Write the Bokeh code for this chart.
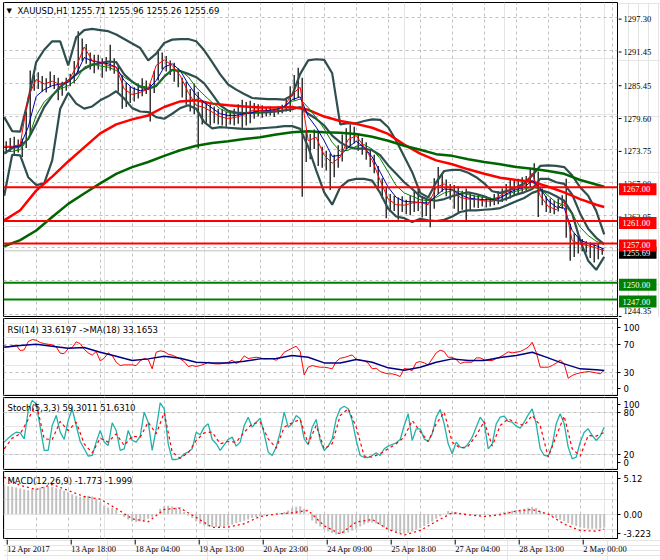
from bokeh.plotting import figure
from bokeh.models import Range1d, LinearAxis, FixedTicker, Grid, Span, Label
from bokeh.layouts import column, row
from bokeh.embed import file_html
from bokeh.resources import INLINE

# ---------------- data ----------------
# bar numbers: one hourly bar per unit
idx2 = list(range(0, 301, 2))          # 151 samples
idx4 = list(range(0, 301, 4))          # 76 samples
idx8 = list(range(0, 297, 8)) + [300]  # 39 samples
bar_idx = list(range(1, 300, 2))       # 150 bars

time_ticks = [0, 32, 64, 96, 128, 160, 192, 224, 256, 288]
time_labels = ["12 Apr 2017", "13 Apr 18:00", "18 Apr 04:00", "19 Apr 13:00", "20 Apr 23:00",
               "24 Apr 09:00", "25 Apr 18:00", "27 Apr 04:00", "28 Apr 13:00", "2 May 00:00"]
vgrid_ticks = list(range(16, 305, 16))

price_ticks = [1297.30, 1291.45, 1285.45, 1279.60, 1273.75, 1267.90, 1262.05, 1256.20, 1250.35, 1244.35]
levels_red = [1267.00, 1261.00, 1257.00]
levels_green = [1250.00, 1247.00]
last_price = 1255.69

# scale labels of the indicator windows: shown text and where the terminal prints it
rsi_scale_text = ["100", "70", "30", "0"]
rsi_scale_at = [94.4, 70, 30, 7.3]
stoch_scale_text = ["100", "80", "20", "0"]
stoch_scale_at = [91.5, 80, 20, 8.1]
macd_scale_text = ["5.12", "0.00", "-3.223"]
macd_scale_at = [4.70, 0.0, -2.56]

bar_high = [1275.2, 1275.8, 1276.0, 1275.5, 1275.7, 1280.5, 1287.8, 1287.0, 1287.5, 1286.8,
            1286.4, 1287.6, 1287.0, 1286.5, 1285.8, 1286.5, 1287.2, 1289.5, 1294.8, 1293.5,
            1292.5, 1291.0, 1290.6, 1290.6, 1290.0, 1290.2, 1292.4, 1290.0, 1288.6, 1287.0,
            1285.6, 1285.0, 1284.8, 1285.5, 1286.4, 1286.0, 1285.4, 1287.7, 1291.5, 1291.0,
            1290.4, 1289.6, 1289.2, 1288.2, 1286.5, 1285.8, 1284.5, 1285.5, 1284.0, 1282.5,
            1282.0, 1281.8, 1281.4, 1281.0, 1280.9, 1280.4, 1280.6, 1281.0, 1281.8, 1282.6,
            1282.2, 1282.4, 1282.0, 1281.8, 1281.6, 1281.3, 1281.4, 1281.0, 1281.4, 1281.7,
            1282.8, 1285.0, 1287.0, 1288.3, 1286.5, 1277.0, 1276.5, 1277.3, 1276.8, 1274.2,
            1273.5, 1273.0, 1272.8, 1274.5, 1276.4, 1277.5, 1278.2, 1277.8, 1276.6, 1275.8,
            1275.0, 1273.6, 1272.8, 1270.8, 1268.6, 1267.0, 1265.8, 1265.5, 1265.2, 1265.4,
            1264.8, 1265.6, 1266.2, 1266.8, 1265.4, 1264.9, 1265.2, 1268.6, 1270.6, 1269.5,
            1268.4, 1267.6, 1267.4, 1267.2, 1266.4, 1266.8, 1266.0, 1265.6, 1265.7, 1265.3,
            1265.4, 1265.2, 1265.8, 1266.3, 1266.8, 1267.6, 1268.4, 1268.2, 1268.5, 1268.8,
            1269.0, 1270.2, 1271.3, 1269.8, 1266.8, 1265.4, 1265.0, 1264.6, 1265.0, 1265.6,
            1268.5, 1260.5, 1258.8, 1258.4, 1257.8, 1257.4, 1257.2, 1256.8, 1257.0, 1256.2]
bar_low = [1273.0, 1273.5, 1272.6, 1273.2, 1272.4, 1274.0, 1276.5, 1284.2, 1284.5, 1284.0,
           1283.9, 1284.8, 1284.5, 1282.5, 1283.3, 1284.2, 1285.0, 1285.5, 1287.5, 1289.5,
           1289.0, 1288.0, 1287.3, 1288.0, 1286.5, 1287.6, 1287.8, 1287.2, 1284.0, 1281.0,
           1281.3, 1282.0, 1282.3, 1282.8, 1283.2, 1283.6, 1278.7, 1283.8, 1286.0, 1288.0,
           1287.6, 1287.0, 1285.8, 1284.8, 1283.0, 1281.7, 1280.5, 1280.0, 1273.9, 1278.2,
           1278.5, 1278.0, 1278.4, 1278.2, 1278.0, 1277.8, 1278.2, 1278.0, 1278.3, 1277.6,
           1278.0, 1278.4, 1279.2, 1279.6, 1279.4, 1279.6, 1279.8, 1279.5, 1280.0, 1280.2,
           1280.5, 1280.4, 1282.5, 1283.0, 1265.3, 1271.5, 1272.0, 1273.8, 1270.8, 1270.5,
           1270.0, 1266.5, 1268.8, 1270.5, 1271.6, 1273.8, 1274.3, 1274.8, 1273.5, 1272.8,
           1271.9, 1270.6, 1269.5, 1266.8, 1265.0, 1261.5, 1262.6, 1262.8, 1261.2, 1262.6,
           1262.2, 1262.0, 1262.6, 1262.8, 1261.6, 1261.9, 1259.9, 1263.2, 1265.8, 1266.2,
           1265.4, 1264.8, 1263.2, 1262.6, 1263.0, 1261.1, 1262.8, 1263.4, 1263.3, 1263.6,
           1263.4, 1263.6, 1263.8, 1264.0, 1264.4, 1264.6, 1265.0, 1265.6, 1265.8, 1266.2,
           1266.4, 1267.0, 1267.6, 1261.7, 1263.8, 1262.6, 1262.4, 1262.2, 1262.7, 1263.2,
           1258.0, 1253.9, 1254.6, 1255.2, 1255.6, 1255.4, 1254.4, 1253.6, 1254.2, 1255.0]

bb_upper = [1279.5, 1277.0, 1276.9, 1282.5, 1289.3, 1291.5, 1293.0, 1293.0, 1288.7, 1293.7,
            1295.0, 1295.2, 1295.0, 1294.8, 1294.2, 1293.4, 1292.6, 1291.8, 1289.6, 1290.8,
            1292.7, 1293.3, 1293.4, 1293.4, 1293.0, 1291.4, 1289.3, 1287.1, 1285.3, 1284.4,
            1283.6, 1282.9, 1282.8, 1282.7, 1282.7, 1282.6, 1283.4, 1287.2, 1289.6, 1289.8,
            1289.7, 1287.3, 1278.2, 1278.4, 1278.4, 1278.8, 1279.1, 1279.0, 1277.7, 1275.3,
            1272.5, 1269.7, 1266.0, 1265.2, 1267.9, 1269.9, 1270.1, 1270.1, 1269.6, 1268.8,
            1267.7, 1266.3, 1266.0, 1266.4, 1267.0, 1267.7, 1269.1, 1270.8, 1270.9, 1270.8,
            1270.6, 1269.1, 1267.0, 1265.5, 1262.8, 1258.6]
bb_mid = [1273.0, 1274.0, 1274.3, 1275.6, 1278.3, 1281.3, 1283.3, 1284.9, 1286.0, 1287.1,
          1288.1, 1288.8, 1289.1, 1289.4, 1289.3, 1287.1, 1285.8, 1284.9, 1284.5, 1285.1,
          1286.7, 1287.9, 1287.7, 1287.2, 1286.6, 1285.5, 1283.6, 1281.6, 1280.6, 1280.3,
          1280.2, 1280.3, 1280.3, 1280.4, 1280.5, 1280.7, 1280.9, 1281.3, 1280.1, 1279.2,
          1278.0, 1276.2, 1275.0, 1274.2, 1273.9, 1273.9, 1273.6, 1272.7, 1270.9, 1269.4,
          1267.9, 1266.7, 1265.4, 1264.8, 1264.6, 1264.9, 1265.4, 1265.8, 1266.1, 1265.8,
          1265.4, 1264.8, 1264.6, 1265.1, 1265.7, 1266.1, 1266.7, 1268.5, 1268.5, 1267.9,
          1267.6, 1265.7, 1262.3, 1259.6, 1258.0, 1256.9]
bb_lower = [1265.5, 1272.8, 1272.7, 1268.8, 1267.4, 1267.7, 1271.8, 1281.0, 1283.8, 1281.9,
            1281.0, 1281.4, 1282.5, 1283.2, 1284.1, 1282.8, 1281.1, 1280.5, 1280.4, 1279.5,
            1279.2, 1280.1, 1281.1, 1281.6, 1281.0, 1278.6, 1277.5, 1277.7, 1277.6, 1277.5,
            1277.4, 1277.4, 1277.5, 1277.6, 1277.7, 1277.9, 1277.9, 1277.4, 1274.2, 1270.0,
            1266.1, 1263.9, 1267.0, 1268.2, 1268.5, 1268.5, 1268.2, 1266.0, 1263.2, 1261.8,
            1261.5, 1260.8, 1261.4, 1261.1, 1261.0, 1261.2, 1261.8, 1262.6, 1262.9, 1262.9,
            1263.0, 1263.1, 1263.3, 1263.9, 1264.5, 1265.1, 1266.0, 1266.5, 1266.1, 1265.4,
            1264.6, 1262.3, 1257.5, 1253.9, 1252.3, 1254.6]
ma_fast = [1274.3, 1274.3, 1274.6, 1283.1, 1286.2, 1285.4, 1285.9, 1285.3, 1285.9, 1288.4,
           1292.0, 1289.6, 1289.3, 1288.7, 1288.4, 1284.5, 1283.5, 1283.9, 1284.5, 1288.7,
           1289.7, 1288.7, 1286.9, 1283.9, 1281.6, 1281.2, 1280.4, 1279.6, 1279.2, 1279.5,
           1279.9, 1280.7, 1280.7, 1280.5, 1280.6, 1281.4, 1283.6, 1284.8, 1275.3, 1275.9,
           1272.7, 1271.3, 1272.4, 1275.5, 1276.2, 1274.2, 1271.8, 1268.2, 1264.9, 1263.9,
           1263.8, 1264.2, 1264.3, 1263.9, 1267.0, 1267.6, 1266.6, 1265.2, 1264.9, 1264.8,
           1264.6, 1264.5, 1265.5, 1266.3, 1267.0, 1267.3, 1269.5, 1265.5, 1263.6, 1263.0,
           1264.4, 1257.5, 1256.9, 1256.6, 1256.2, 1255.7]
ma_medium = [1274.1, 1274.2, 1274.4, 1277.7, 1283.2, 1284.4, 1285.1, 1285.4, 1285.7, 1287.1,
             1290.1, 1289.5, 1289.2, 1289.0, 1288.4, 1286.0, 1284.7, 1284.2, 1284.5, 1286.0,
             1288.4, 1289.0, 1287.8, 1285.4, 1283.4, 1282.1, 1281.1, 1280.1, 1279.8, 1279.8,
             1280.1, 1280.3, 1280.7, 1280.7, 1280.8, 1281.4, 1282.6, 1283.1, 1279.6, 1277.7,
             1275.3, 1272.5, 1272.7, 1274.1, 1275.2, 1274.1, 1272.4, 1269.7, 1267.0, 1265.2,
             1264.5, 1264.4, 1264.3, 1264.2, 1265.5, 1266.7, 1266.6, 1265.7, 1265.1, 1264.9,
             1264.8, 1264.8, 1265.1, 1266.0, 1266.6, 1267.0, 1268.2, 1266.9, 1264.6, 1263.5,
             1263.3, 1259.3, 1257.6, 1257.0, 1256.6, 1256.0]
ma_slow = [1273.3, 1273.4, 1273.7, 1275.6, 1279.8, 1282.2, 1283.5, 1284.5, 1285.1, 1286.1,
           1288.4, 1289.0, 1288.6, 1288.4, 1287.8, 1286.6, 1285.7, 1285.1, 1284.8, 1284.9,
           1286.9, 1287.8, 1287.8, 1286.7, 1284.8, 1283.4, 1282.1, 1281.0, 1280.3, 1280.1,
           1280.1, 1280.2, 1280.4, 1280.7, 1280.9, 1281.4, 1282.3, 1282.7, 1281.2, 1279.4,
           1277.4, 1275.0, 1273.4, 1273.6, 1274.3, 1274.6, 1273.8, 1272.1, 1269.7, 1267.3,
           1266.0, 1265.4, 1264.8, 1264.6, 1265.2, 1266.0, 1266.4, 1266.2, 1265.7, 1265.4,
           1265.2, 1265.0, 1265.2, 1265.8, 1266.3, 1266.7, 1267.0, 1266.7, 1265.5, 1264.3,
           1263.8, 1262.3, 1259.9, 1258.4, 1257.4, 1256.8]
ma_long_red = [1261.1, 1262.9, 1266.4, 1268.9, 1271.6, 1274.1, 1276.6, 1278.2, 1279.1, 1279.8,
               1281.3, 1282.3, 1282.5, 1281.9, 1281.6, 1281.4, 1281.2, 1281.2, 1281.3, 1280.8,
               1279.6, 1278.8, 1278.3, 1277.6, 1276.5, 1274.6, 1273.0, 1271.8, 1271.1, 1270.2,
               1269.4, 1268.7, 1268.3, 1268.0, 1267.1, 1266.1, 1264.9, 1263.9, 1263.5]
ma_long_green = [1256.5, 1257.6, 1259.3, 1261.7, 1264.05, 1265.9, 1267.7, 1269.4, 1270.6, 1271.5,
                 1272.6, 1273.6, 1274.4, 1274.9, 1275.2, 1275.6, 1275.9, 1276.4, 1276.8, 1277.0,
                 1276.8, 1276.7, 1276.5, 1276.0, 1275.3, 1274.4, 1273.7, 1272.9, 1272.6, 1272.0,
                 1271.5, 1271.1, 1270.6, 1270.3, 1269.9, 1269.4, 1268.3, 1267.5, 1267.1]

rsi = [68.5, 66.6, 68.5, 69.0, 61.5, 62.4, 74.2, 77.0, 76.1, 72.8,
       71.3, 70.4, 69.5, 66.6, 57.7, 57.2, 64.3, 65.7, 73.7, 71.3,
       63.3, 58.2, 54.9, 60.1, 46.9, 50.6, 58.2, 54.4, 45.0, 40.3,
       41.2, 41.2, 41.2, 40.3, 46.9, 50.2, 48.8, 35.6, 59.1, 61.0,
       60.1, 56.3, 54.9, 52.5, 49.7, 45.9, 38.9, 40.3, 38.9, 40.3,
       42.2, 45.0, 43.1, 42.6, 42.6, 43.6, 45.0, 47.8, 43.1, 46.4,
       53.9, 50.2, 51.1, 52.0, 51.1, 49.7, 49.7, 49.7, 47.8, 51.6,
       59.1, 61.9, 64.8, 67.6, 60.1, 27.1, 37.9, 40.3, 38.9, 37.9,
       37.9, 37.0, 35.6, 45.9, 50.6, 51.6, 53.5, 55.3, 49.2, 47.8,
       47.3, 43.6, 35.6, 36.5, 31.8, 29.9, 28.5, 28.5, 27.1, 24.7,
       36.1, 35.1, 33.2, 44.5, 45.9, 44.0, 41.2, 49.7, 58.2, 61.9,
       60.1, 52.0, 52.0, 48.8, 43.1, 45.0, 45.0, 45.0, 51.1, 51.1,
       48.3, 47.3, 47.3, 50.2, 52.5, 55.8, 59.6, 58.2, 59.1, 60.1,
       62.9, 66.2, 73.2, 59.1, 37.9, 37.9, 37.9, 40.3, 43.6, 48.3,
       42.6, 22.4, 26.2, 28.5, 29.9, 30.9, 31.8, 30.9, 29.9, 28.5,
       33.6]
rsi_ma = [66.2, 68.5, 70.4, 67.6, 64.8, 65.7, 59.1, 53.5, 47.3, 49.7,
          53.5, 50.6, 45.0, 44.0, 44.0, 46.4, 49.7, 50.2, 54.4, 52.0,
          44.0, 44.0, 48.8, 45.0, 37.0, 33.7, 37.9, 45.0, 49.7, 47.3,
          47.3, 51.6, 54.4, 59.1, 51.1, 42.6, 35.6, 34.2, 33.2]

stoch_main = [37.8, 43.5, 48.3, 52.1, 51.2, 42.5, 83.3, 97.7, 92.9, 59.3,
              25.8, 25.8, 61.7, 76.1, 52.1, 41.6, 68.9, 85.7, 61.7, 38.7,
              28.2, 17.6, 18.6, 37.8, 54.5, 37.8, 33.0, 65.6, 54.5, 25.8,
              28.2, 54.5, 40.2, 37.8, 46.4, 80.9, 66.5, 25.8, 56.9, 94.3,
              85.7, 35.4, 12.8, 12.8, 14.7, 21.0, 23.4, 28.2, 52.1, 48.3,
              59.3, 64.1, 41.6, 35.4, 25.8, 33.9, 41.6, 45.0, 32.0, 37.8,
              61.7, 73.7, 59.3, 66.5, 72.3, 49.7, 23.4, 18.6, 30.6, 52.1,
              80.9, 59.3, 64.1, 76.1, 71.3, 42.5, 34.0, 59.3, 70.4, 40.2,
              25.8, 32.0, 42.5, 71.3, 85.7, 89.5, 85.7, 68.9, 40.2, 18.6,
              15.7, 15.7, 18.6, 22.4, 18.6, 28.2, 32.0, 34.4, 36.8, 41.6,
              61.7, 78.5, 40.2, 56.9, 56.9, 42.5, 38.7, 49.7, 73.7, 84.8,
              64.1, 35.4, 21.0, 37.8, 30.6, 29.1, 35.4, 44.9, 59.3, 73.7,
              65.6, 28.2, 35.4, 64.1, 73.7, 75.2, 67.5, 66.5, 60.8, 57.9,
              66.5, 77.1, 85.7, 64.1, 28.2, 18.6, 17.6, 32.9, 64.1, 78.5,
              64.1, 30.6, 13.8, 16.2, 37.8, 52.1, 56.9, 47.3, 40.2, 46.4,
              59.3]
stoch_signal = [28.2, 43.5, 49.7, 70.4, 94.3, 42.5, 41.6, 67.5, 54.5, 66.5,
                35.4, 22.4, 43.5, 37.8, 49.7, 33.0, 46.4, 44.9, 66.5, 49.7,
                80.0, 23.4, 14.7, 22.4, 40.2, 51.2, 52.1, 35.4, 38.7, 37.8,
                52.1, 64.1, 66.5, 42.5, 29.1, 59.3, 65.6, 70.4, 35.4, 61.7,
                28.2, 35.4, 76.1, 85.7, 59.3, 17.6, 16.2, 21.4, 28.2, 35.4,
                44.9, 68.9, 53.1, 38.7, 64.1, 80.9, 37.8, 29.1, 32.0, 47.3,
                67.5, 32.0, 61.7, 71.3, 65.6, 61.7, 76.1, 61.7, 16.2, 46.4,
                75.2, 28.2, 17.6, 47.3, 46.4, 51.6]

macd_hist = [3.80, 3.71, 3.63, 3.54, 3.40, 3.27, 3.18, 3.32, 3.40, 3.54,
             3.63, 3.71, 3.63, 3.45, 3.32, 3.10, 2.92, 2.65, 2.43, 2.30,
             2.39, 2.43, 2.34, 2.03, 1.59, 1.15, 0.88, 0.80, 0.62, -0.09,
             -0.40, -0.71, -0.97, -1.06, -0.97, -0.80, -0.62, -0.40, 0.04, 0.71,
             1.06, 1.11, 1.02, 0.88, 0.71, 0.27, -0.18, -0.53, -0.97, -1.28,
             -1.50, -1.63, -1.72, -1.72, -1.68, -1.59, -1.50, -1.37, -1.19, -1.06,
             -0.88, -0.71, -0.53, -0.40, -0.27, -0.18, -0.09, -0.04, 0.00, 0.09,
             0.27, 0.49, 0.80, 0.97, 1.06, 0.71, 0.04, -0.84, -1.28, -1.63,
             -1.99, -2.30, -2.52, -2.70, -2.65, -2.56, -2.43, -2.21, -1.95, -1.63,
             -1.37, -1.15, -1.10, -1.24, -1.46, -1.77, -2.08, -2.26, -2.39, -2.52,
             -2.61, -2.52, -2.30, -2.08, -1.86, -1.59, -1.33, -0.97, -0.62, -0.31,
             0.04, 0.40, 0.35, 0.27, 0.18, 0.09, 0.00, -0.09, -0.18, -0.18,
             -0.13, -0.09, 0.00, 0.04, 0.18, 0.27, 0.35, 0.44, 0.53, 0.62,
             0.71, 0.84, 0.93, 0.80, 0.44, 0.13, -0.09, -0.35, -0.53, -0.75,
             -0.93, -1.19, -1.41, -1.59, -1.77, -1.86, -1.95, -1.95, -1.95, -1.90,
             -1.77]
macd_signal = [4.91, 3.80, 3.27, 3.94, 3.14, 2.34, 1.99, 0.75, -0.62, -1.02,
               0.62, 0.80, -0.44, -1.77, -1.72, -1.28, -0.31, 0.00, 0.18, 0.49,
               -1.55, -2.65, -1.06, -0.71, -2.03, -2.79, -2.17, -0.97, 0.18, -0.09,
               -0.31, -0.09, 0.40, 0.62, 0.00, -1.33, -2.17, -2.26, -2.00]

for name, arr, ref in [("bar_high", bar_high, bar_idx), ("bar_low", bar_low, bar_idx),
                       ("bb_upper", bb_upper, idx4), ("bb_mid", bb_mid, idx4), ("bb_lower", bb_lower, idx4),
                       ("ma_fast", ma_fast, idx4), ("ma_medium", ma_medium, idx4), ("ma_slow", ma_slow, idx4),
                       ("ma_long_red", ma_long_red, idx8), ("ma_long_green", ma_long_green, idx8),
                       ("rsi", rsi, idx2), ("rsi_ma", rsi_ma, idx8), ("stoch_main", stoch_main, idx2),
                       ("stoch_signal", stoch_signal, idx4), ("macd_hist", macd_hist, idx2),
                       ("macd_signal", macd_signal, idx8)]:
    if len(arr) != len(ref):
        raise ValueError(f"{name}: {len(arr)} != {len(ref)}")

# ---------------- styling ----------------
FONT = "DejaVu Sans"
FS = "8.5px"
GRID = "#c0c0c0"
FRAME_W = 614

x_range = Range1d(-0.35, 306.65)


def style_axis(ax):
    ax.axis_line_color = "black"
    ax.major_tick_out = 3
    ax.major_tick_in = 0
    ax.minor_tick_out = 0
    ax.minor_tick_in = 0
    ax.major_label_standoff = 3
    ax.major_label_text_font = FONT
    ax.major_label_text_font_size = FS
    ax.major_label_text_color = "black"


def make_panel(fh, y0, y1, top, scale_at, scale_text, hticks, right=43):
    p = figure(frame_width=FRAME_W, frame_height=fh, x_range=x_range, y_range=Range1d(y0, y1),
               x_axis_location=None, y_axis_location=None, toolbar_location=None, title=None,
               output_backend="svg", min_border_left=3, min_border_right=right,
               min_border_top=top, min_border_bottom=1,
               outline_line_color="black", outline_line_width=1,
               background_fill_color="white", border_fill_color="white")
    if scale_at:
        ax = LinearAxis(ticker=FixedTicker(ticks=scale_at),
                        major_label_overrides=dict(zip(scale_at, scale_text)))
        style_axis(ax)
        p.add_layout(ax, "right")
    p.add_layout(Grid(dimension=0, ticker=FixedTicker(ticks=vgrid_ticks),
                      grid_line_color=GRID, grid_line_dash="3 3"))
    if hticks:
        p.add_layout(Grid(dimension=1, ticker=FixedTicker(ticks=hticks),
                          grid_line_color=GRID, grid_line_dash="3 3"))
    return p


def corner_text(p, fh, text, x_px, px_from_top, size=FS):
    y0, y1 = p.y_range.start, p.y_range.end
    x = x_range.start + (x_px - 3) / 2.0
    y = y1 - px_from_top * (y1 - y0) / fh
    p.add_layout(Label(x=x, y=y, text=text, text_font=FONT, text_font_size=size,
                       text_baseline="middle", text_align="left", text_color="black"))


# ---------------- main price panel ----------------
H1 = 314
MAIN_LO, MAIN_HI = 1243.99, 1299.91
p1 = make_panel(H1, MAIN_LO, MAIN_HI, 2, None, None, price_ticks, right=1)
p1.add_layout(Span(location=last_price, dimension="width", line_color="#c0c0c0",
                   line_width=1, level="underlay"))
p1.segment(x0=bar_idx, y0=bar_low, x1=bar_idx, y1=bar_high, line_color="black", line_width=1.2)
for band in (bb_upper, bb_mid, bb_lower):
    p1.line(idx4, band, line_color="#2f4f4f", line_width=2.2)
p1.line(idx8, ma_long_red, line_color="#ff0000", line_width=2.5)
p1.line(idx8, ma_long_green, line_color="#006400", line_width=2.5)
p1.line(idx4, ma_slow, line_color="#008000", line_width=1)
p1.line(idx4, ma_medium, line_color="#0000b0", line_width=1)
p1.line(idx4, ma_fast, line_color="#ff0000", line_width=1)
for lv in levels_red:
    p1.add_layout(Span(location=lv, dimension="width", line_color="#ff0000", line_width=2))
for lv in levels_green:
    p1.add_layout(Span(location=lv, dimension="width", line_color="#008000", line_width=2))
corner_text(p1, H1, "\u25bc", 6, 8, size="7px")
corner_text(p1, H1, "XAUUSD,H1  1255.71 1255.96 1255.26 1255.69", 17, 8)

# price scale strip at the right of the main panel (ticks, labels and level tags)
ppu = H1 / (MAIN_HI - MAIN_LO)
pa = figure(frame_width=42, frame_height=317, x_range=Range1d(0, 42),
            y_range=Range1d(MAIN_LO - 1 / ppu, MAIN_HI + 2 / ppu),
            x_axis_location=None, y_axis_location=None, toolbar_location=None, title=None,
            output_backend="svg", min_border_left=0, min_border_right=0,
            min_border_top=0, min_border_bottom=0, outline_line_color=None,
            background_fill_color="white", border_fill_color="white")
pa.segment(x0=0, y0=price_ticks, x1=3, y1=price_ticks, line_color="black", line_width=1)
# the lowest scale label is nudged up so it stays inside the window, as the terminal does
label_nudge = [0] * (len(price_ticks) - 1) + [-5]
pa.text(x=5, y=price_ticks, text=[f"{v:.2f}" for v in price_ticks], y_offset=label_nudge,
        text_font=FONT, text_font_size=FS, text_baseline="middle", text_align="left",
        text_color="black")
tag_values = [last_price] + levels_red + levels_green
tag_colors = ["black"] + ["#ff0000"] * len(levels_red) + ["#008000"] * len(levels_green)
pa.rect(x=19.25, y=tag_values, width=37.5, height=12, height_units="screen",
        fill_color=tag_colors, line_color=None)
pa.text(x=4, y=tag_values, text=[f"{v:.2f}" for v in tag_values], text_font=FONT,
        text_font_size=FS, text_baseline="middle", text_align="left", text_color="white")

# ---------------- RSI panel ----------------
H2 = 77
p2 = make_panel(H2, -2.1, 106.8, 1, rsi_scale_at, rsi_scale_text, [70, 30])
p2.line(idx2, rsi, line_color="#ff0000", line_width=1)
p2.line(idx8, rsi_ma, line_color="#000080", line_width=1.5)
corner_text(p2, H2, "RSI(14) 33.6197  ->MA(18) 33.1653", 7, 11)

# ---------------- Stochastic panel ----------------
H3 = 72
p3 = make_panel(H3, -1.6, 102.0, 1, stoch_scale_at, stoch_scale_text, [80, 20])
p3.line(idx2, stoch_main, line_color="#20b2aa", line_width=1.3)
p3.line(idx4, stoch_signal, line_color="#ff0000", line_width=1.2, line_dash="3 3")
corner_text(p3, H3, "Stoch(5,3,3) 59.3011 51.6310", 7, 10)

# ---------------- MACD panel ----------------
H4 = 67
p4 = make_panel(H4, -3.24, 5.66, 1, macd_scale_at, macd_scale_text, None)
p4.vbar(x=idx2, top=macd_hist, bottom=0, width=1.0, fill_color="#c0c0c0", line_color=None)
p4.line(idx8, macd_signal, line_color="#ff0000", line_width=1.3, line_dash="2 3")
corner_text(p4, H4, "MACD(12,26,9) -1.773 -1.999", 7, 9)

# ---------------- time scale strip ----------------
tf = figure(frame_width=660, frame_height=21, x_range=Range1d(-1.85, 328.15), y_range=Range1d(0, 21),
            x_axis_location=None, y_axis_location=None, toolbar_location=None, title=None,
            output_backend="svg", min_border_left=0, min_border_right=0,
            min_border_top=0, min_border_bottom=0, outline_line_color=None,
            background_fill_color="white", border_fill_color="white")
tf.segment(x0=time_ticks, y0=21, x1=time_ticks, y1=16, line_color="black", line_width=1)
tf.text(x=time_ticks, y=11.5, text=time_labels, text_font=FONT, text_font_size=FS,
        text_baseline="middle", text_align="left", text_color="black")

layout = column(row(p1, pa), p2, p3, p4, tf)

open("out.html", "w").write(file_html(layout, INLINE))
